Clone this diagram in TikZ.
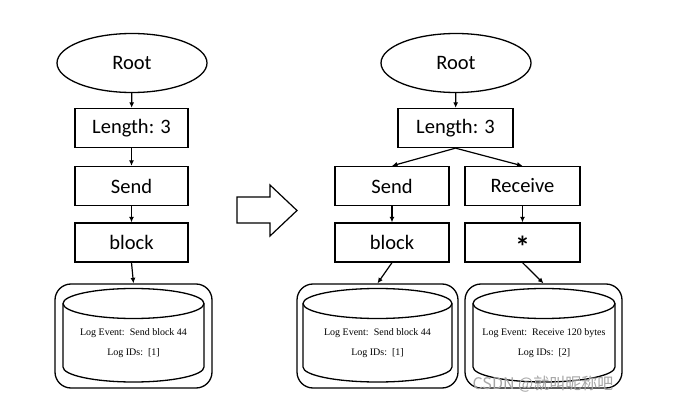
\documentclass[tikz,border=0pt]{standalone}
\usepackage{fontspec}
\setmainfont{Carlito}
\newfontfamily\logfont{Liberation Serif}
\newfontfamily\cjkfont{Noto Sans CJK SC}
\usetikzlibrary{arrows.meta,shapes.geometric}
\tikzset{
  box/.style={draw, line width=1.3pt, minimum width=114pt, minimum height=39pt, inner sep=0pt, font=\fontsize{20.5}{20.5}\selectfont},
  rootnode/.style={draw, ellipse, line width=1.3pt, minimum width=150pt, minimum height=59pt, inner sep=0pt, font=\fontsize{20.5}{20.5}\selectfont},
  conn/.style={line width=1.2pt, -{Latex[length=5.5pt,width=5pt]}},
  store/.style={draw, line width=1.3pt, rounded corners=16pt, minimum height=104pt, inner sep=0pt},
  cyl/.style={line width=1.3pt},
  logtext/.style={font=\logfont\fontsize{10}{10}\selectfont, inner sep=0pt}
}
\newcommand{\drawcyl}[2]{% center x, half width
  \draw[cyl] (#1,303.5) ellipse [x radius=#2pt, y radius=15pt];
  \draw[cyl] (#1-#2,303.5) -- (#1-#2,367) arc[start angle=180, end angle=360, x radius=#2pt, y radius=15pt] -- (#1+#2,303.5);
}
\begin{document}
\begin{tikzpicture}[x=1pt,y=-1pt]
\useasboundingbox (0,0) rectangle (699,414);
% left tree
\node[rootnode] (lroot) at (132,63) {Root};
\node[box, minimum width=113pt] (llen) at (131.5,128) {Length: 3};
\node[box, minimum width=113pt] (lsend) at (131.5,186) {Send};
\node[box, minimum width=113pt] (lblock) at (131.5,242.5) {block};
\node[store, minimum width=157pt] (lstore) at (133.5,336) {};
\drawcyl{133.5}{70.5}
\node[logtext] (lev) at (133.5,333) {Log Event:\ \ Send block 44};
\node[logtext] (lid) at (133.5,353) {Log IDs:\ \ [1]};
\draw[conn] (lroot) -- (llen);
\draw[conn] (llen) -- (lsend);
\draw[conn] (lsend) -- (lblock);
\draw[conn] (lblock.south) -- (lstore.north);
% hollow arrow
\draw[line width=1.2pt, line join=miter] (237,197) -- (270,197) -- (270,185) -- (297,210.5) -- (270,236) -- (270,223) -- (237,223) -- cycle;
% right tree
\node[rootnode] (rroot) at (456,63) {Root};
\node[box, minimum width=115pt] (rlen) at (455.5,128) {Length: 3};
\node[box] (rsend) at (392,186) {Send};
\node[box, minimum width=115pt] (rrecv) at (522.5,186) {Receive};
\node[box] (rblock) at (392,242.5) {block};
\node[box, minimum width=115pt] (rstar) at (522.5,242.5) {\fontsize{30}{30}\selectfont\bfseries\smash{\raisebox{-15pt}{*}}};
\node[store, minimum width=161pt] (mstore) at (377.5,336) {};
\drawcyl{377.5}{74.5}
\node[logtext] (mev) at (377.5,333) {Log Event:\ \ Send block 44};
\node[logtext] (mid) at (377.5,353) {Log IDs:\ \ [1]};
\node[store, minimum width=157pt] (rstore) at (543.5,336) {};
\drawcyl{544}{71}
\node[logtext] (rev) at (544,333) {Log Event:\ \ Receive 120 bytes};
\node[logtext] (rid) at (544,353) {Log IDs:\ \ [2]};
\draw[conn] (rroot) -- (rlen);
\draw[conn] (rlen.south) -- (rsend.north);
\draw[conn] (rlen.south) -- (rrecv.north);
\draw[conn] (rsend) -- (rblock);
\draw[conn] (rrecv) -- (rstar);
\draw[conn] (rblock.south) -- (mstore.north);
\draw[conn] (rstar.south) -- (rstore.north);
% watermark
\node[font=\cjkfont\fontsize{16}{16}\selectfont, text=black!35, inner sep=0pt] (wm) at (543,384) {CSDN @就叫昵称吧};
\end{tikzpicture}
\end{document}
